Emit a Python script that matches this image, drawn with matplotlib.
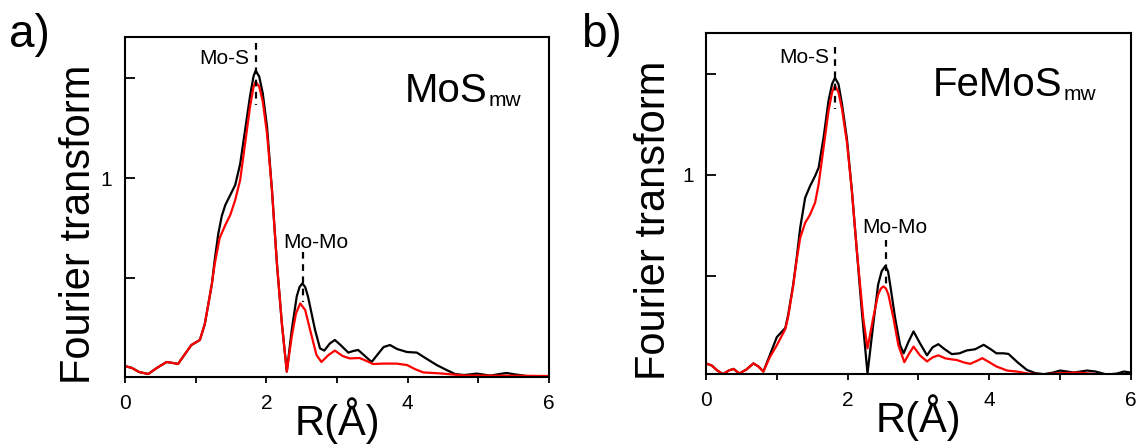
import matplotlib
matplotlib.use("Agg")
import matplotlib.pyplot as plt

plt.rcParams['font.family'] = ['Liberation Sans', 'DejaVu Sans']

# ---------------- data: panel a (MoS_mw) ----------------
r_a_black = [0.0, 0.1, 0.2, 0.33, 0.45, 0.59, 0.68, 0.75, 0.85, 0.94, 1.06, 1.13, 1.18, 1.23, 1.27,
             1.32, 1.37, 1.42, 1.49, 1.56, 1.63, 1.70, 1.77, 1.82, 1.85, 1.90, 1.95, 2.01, 2.08, 2.15,
             2.22, 2.29, 2.36, 2.43, 2.47, 2.51, 2.55, 2.59, 2.69, 2.76, 2.82, 2.90, 2.97, 3.05, 3.16,
             3.23, 3.30, 3.38, 3.49, 3.58, 3.66, 3.75, 3.85, 3.99, 4.13, 4.25, 4.41, 4.55, 4.67, 4.80,
             4.98, 5.17, 5.30, 5.40, 5.52, 5.68, 5.85, 6.0]
ft_a_black = [0.06, 0.05, 0.03, 0.02, 0.05, 0.08, 0.075, 0.07, 0.12, 0.165, 0.19, 0.27, 0.37, 0.47, 0.59,
              0.72, 0.81, 0.865, 0.915, 0.965, 1.07, 1.24, 1.41, 1.51, 1.537, 1.507, 1.423, 1.257, 0.94, 0.573,
              0.273, 0.032, 0.24, 0.407, 0.455, 0.473, 0.455, 0.407, 0.24, 0.148, 0.137, 0.173, 0.19, 0.165, 0.127,
              0.135, 0.14, 0.115, 0.08, 0.12, 0.155, 0.165, 0.145, 0.13, 0.127, 0.10, 0.065, 0.04, 0.02, 0.015,
              0.022, 0.012, 0.02, 0.025, 0.018, 0.01, 0.008, 0.008]

r_a_red = [0.0, 0.1, 0.2, 0.33, 0.45, 0.59, 0.68, 0.75, 0.85, 0.94, 1.06, 1.13, 1.18, 1.23, 1.27,
           1.34, 1.42, 1.49, 1.56, 1.63, 1.70, 1.77, 1.82, 1.85, 1.90, 1.95, 2.01, 2.08, 2.15,
           2.22, 2.29, 2.36, 2.42, 2.48, 2.55, 2.62, 2.71, 2.78, 2.88, 2.97, 3.08, 3.18, 3.32, 3.42, 3.51,
           3.65, 3.84, 3.99, 4.10, 4.22, 4.46, 4.79, 5.26, 5.97]
ft_a_red = [0.06, 0.05, 0.03, 0.02, 0.05, 0.08, 0.075, 0.07, 0.12, 0.165, 0.19, 0.27, 0.37, 0.47, 0.57,
            0.70, 0.765, 0.815, 0.89, 0.99, 1.173, 1.357, 1.457, 1.482, 1.457, 1.382, 1.223, 0.94, 0.573,
            0.273, 0.032, 0.207, 0.323, 0.373, 0.34, 0.24, 0.115, 0.08, 0.115, 0.137, 0.11, 0.098, 0.10, 0.085, 0.07,
            0.072, 0.072, 0.065, 0.045, 0.028, 0.023, 0.013, 0.012, 0.01]

# ---------------- data: panel b (FeMoS_mw) ----------------
r_b_black = [0.0, 0.08, 0.16, 0.24, 0.32, 0.39, 0.47, 0.57, 0.67, 0.74, 0.81, 0.90, 1.00, 1.12, 1.16,
             1.23, 1.28, 1.33, 1.40, 1.47, 1.54, 1.59, 1.66, 1.73, 1.78, 1.82, 1.87, 1.92, 1.99, 2.06,
             2.13, 2.20, 2.28, 2.36, 2.43, 2.48, 2.53, 2.57, 2.60, 2.67, 2.74, 2.79, 2.86, 2.93, 3.02,
             3.12, 3.20, 3.28, 3.37, 3.47, 3.58, 3.68, 3.80, 3.92, 4.02, 4.10, 4.20, 4.27, 4.40, 4.53,
             4.65, 4.77, 4.90, 5.00, 5.10, 5.19, 5.38, 5.50, 5.66, 5.80, 5.90, 6.00]
ft_b_black = [0.07, 0.06, 0.035, 0.017, 0.035, 0.043, 0.02, 0.04, 0.07, 0.055, 0.03, 0.11, 0.20, 0.245, 0.31,
              0.457, 0.59, 0.74, 0.888, 0.946, 0.995, 1.036, 1.185, 1.367, 1.449, 1.479, 1.449, 1.35, 1.177, 0.92,
              0.624, 0.327, 0.02, 0.26, 0.459, 0.525, 0.55, 0.525, 0.459, 0.294, 0.16, 0.12, 0.178, 0.228, 0.17,
              0.11, 0.15, 0.165, 0.14, 0.116, 0.12, 0.134, 0.14, 0.162, 0.14, 0.12, 0.12, 0.117, 0.075, 0.038,
              0.022, 0.017, 0.025, 0.035, 0.03, 0.025, 0.035, 0.03, 0.015, 0.02, 0.03, 0.025]

r_b_red = [0.0, 0.08, 0.16, 0.24, 0.32, 0.39, 0.47, 0.57, 0.67, 0.74, 0.81, 0.90, 1.00, 1.12, 1.16,
           1.23, 1.28, 1.33, 1.40, 1.47, 1.54, 1.59, 1.66, 1.73, 1.78, 1.82, 1.87, 1.92, 1.99, 2.06,
           2.13, 2.22, 2.28, 2.36, 2.43, 2.47, 2.505, 2.54, 2.575, 2.646, 2.716, 2.80, 2.87, 2.93, 3.02,
           3.12, 3.20, 3.28, 3.38, 3.47, 3.54, 3.64, 3.73, 3.82, 3.90, 3.98, 4.10, 4.25, 4.39, 4.55,
           4.77, 5.00, 5.24, 5.50, 5.71, 6.00]
ft_b_red = [0.07, 0.06, 0.035, 0.017, 0.035, 0.043, 0.02, 0.04, 0.07, 0.055, 0.03, 0.10, 0.16, 0.24, 0.30,
            0.45, 0.58, 0.69, 0.764, 0.805, 0.863, 0.954, 1.135, 1.317, 1.408, 1.441, 1.408, 1.325, 1.16, 0.92,
            0.624, 0.294, 0.145, 0.294, 0.41, 0.44, 0.45, 0.44, 0.41, 0.294, 0.16, 0.076, 0.12, 0.153, 0.11,
            0.08, 0.10, 0.11, 0.095, 0.09, 0.087, 0.075, 0.068, 0.082, 0.096, 0.08, 0.055, 0.035, 0.03, 0.02,
            0.017, 0.022, 0.025, 0.018, 0.015, 0.012]

# peak markers: (R, y_top, y_bottom)
mos_line_a = (1.855, 1.675, 1.365)
momo_line_a = (2.52, 0.63, 0.38)
mos_line_b = (1.82, 1.63, 1.325)
momo_line_b = (2.54, 0.68, 0.44)

x_ticks = [0, 2, 4, 6]
x_minor = [1, 3, 5]
y_ticks = [0.5, 1.0, 1.5]
y_tick_labels = ['', '1', '']

fig = plt.figure(figsize=(11.4, 4.45), dpi=100)
ax_a = fig.add_axes([0.1096, 0.1528, 0.372, 0.764])
ax_b = fig.add_axes([0.6193, 0.1596, 0.3728, 0.766])

panels = [
    (ax_a, r_a_black, ft_a_black, r_a_red, ft_a_red, mos_line_a, momo_line_a,
     (0.005, 1.705), 'MoS', (3.96, 1.38), (1.76, 1.60), (2.24, 0.68), -0.061),
    (ax_b, r_b_black, ft_b_black, r_b_red, ft_b_red, mos_line_b, momo_line_b,
     (0.018, 1.70), 'FeMoS', (3.20, 1.39), (1.74, 1.58), (2.20, 0.74), -0.075),
]

for (ax, rb, fb, rr, fr, mos, momo, ylim, name, name_pos, mos_txt, momo_txt, ylab_x) in panels:
    ax.plot(rb, fb, color='black', lw=1.6, solid_joinstyle='round')
    ax.plot(rr, fr, color='#ff0000', lw=1.6, solid_joinstyle='round')
    ax.plot([mos[0], mos[0]], [mos[1], mos[2]], color='black', lw=1.6,
            ls=(0, (3, 2.5)), zorder=4)
    ax.plot([momo[0], momo[0]], [momo[1], momo[2]], color='black', lw=1.6,
            ls=(0, (3, 2.5)), zorder=4)
    ax.text(mos_txt[0], mos_txt[1], 'Mo-S', fontsize=15, ha='right', va='center')
    ax.text(momo_txt[0], momo_txt[1], 'Mo-Mo', fontsize=15, ha='left', va='center')
    t = ax.text(name_pos[0], name_pos[1], name, fontsize=29, ha='left', va='baseline')
    ax.annotate('mw', xy=(1, 0), xycoords=t, xytext=(1, 0), textcoords='offset points',
                fontsize=15, ha='left', va='bottom')
    ax.set_xlim(0, 6)
    ax.set_ylim(*ylim)
    ax.set_xticks(x_ticks)
    ax.set_xticks(x_minor, minor=True)
    ax.set_yticks(y_ticks)
    ax.set_yticklabels(y_tick_labels)
    ax.tick_params(axis='x', which='both', direction='out', length=4, width=1.3,
                   labelsize=15, pad=8)
    ax.tick_params(axis='y', direction='in', length=7, width=1.3, labelsize=15, pad=9)
    for s in ax.spines.values():
        s.set_linewidth(1.5)
    ax.set_xlabel('R(Å)', fontsize=30, labelpad=-11)
    ax.set_ylabel('Fourier transform', fontsize=30)
    ax.yaxis.set_label_coords(ylab_x, 0.45)

fig.text(0.008, 0.895, 'a)', fontsize=33, ha='left', va='baseline')
fig.text(0.510, 0.895, 'b)', fontsize=33, ha='left', va='baseline')

fig.savefig('out.png', dpi=100)
